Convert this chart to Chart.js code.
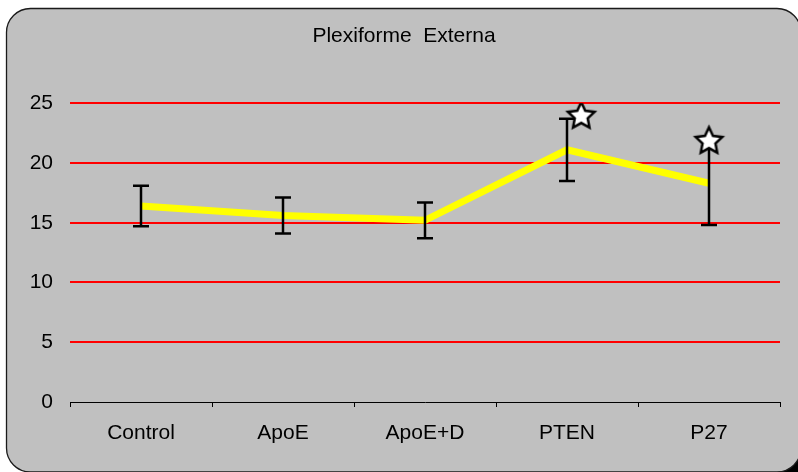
<!DOCTYPE html>
<html>
<head>
<meta charset="utf-8">
<script src="https://cdn.jsdelivr.net/npm/chart.js@4/dist/chart.umd.min.js"></script>
<style>
  html, body { margin: 0; padding: 0; background: #ffffff; }
  #wrap { width: 798px; height: 472px; }
</style>
</head>
<body>
<div id="wrap"><canvas id="chart" width="798" height="472"></canvas></div>
<script>
// Groups along the x axis
const categories = ['Control', 'ApoE', 'ApoE+D', 'PTEN', 'P27'];
// Group means and their error (±)
const means = [16.4, 15.6, 15.2, 21.1, 18.3];
const errors = [1.7, 1.5, 1.5, 2.6, 3.5];
// Significance stars: position along the group axis (group index) and height
const starX = [3.1, 4];
const starY = [24, 21.9];
// Y axis ticks
const yTicks = [0, 5, 10, 15, 20, 25];

const FONT = '"Liberation Sans", Arial, Helvetica, sans-serif';

// Five-pointed white star with black outline, used as point style
function makeStar(outer, inner, lw) {
  const size = Math.ceil(outer * 2 + lw * 2 + 2);
  const c = document.createElement('canvas');
  c.width = size; c.height = size;
  const g = c.getContext('2d');
  const cx = size / 2, cy = size / 2 + 1;
  g.beginPath();
  for (let i = 0; i < 10; i++) {
    const r = i % 2 === 0 ? outer : inner;
    const a = -Math.PI / 2 + i * Math.PI / 5;
    const px = cx + r * Math.cos(a), py = cy + r * Math.sin(a);
    if (i === 0) g.moveTo(px, py); else g.lineTo(px, py);
  }
  g.closePath();
  g.fillStyle = '#ffffff';
  g.fill();
  g.lineWidth = lw;
  g.lineJoin = 'miter';
  g.strokeStyle = '#000000';
  g.stroke();
  return c;
}
const starImg = makeStar(14, 6.8, 2.5);

// Rounded grey panel; the page corner behind its lower right edge is dark
const panel = {
  id: 'panel',
  beforeDraw(chart) {
    const ctx = chart.ctx;
    const x0 = 6.5, y0 = 8.5, x1 = 801, y1 = 472, r = 24;
    ctx.save();
    ctx.fillStyle = '#000000';
    ctx.fillRect(772, 440, 30, 34);
    ctx.beginPath();
    ctx.moveTo(x0 + r, y0);
    ctx.arcTo(x1, y0, x1, y1, r);
    ctx.arcTo(x1, y1, x0, y1, r);
    ctx.arcTo(x0, y1, x0, y0, r);
    ctx.arcTo(x0, y0, x1, y0, r);
    ctx.closePath();
    ctx.fillStyle = '#c0c0c0';
    ctx.fill();
    ctx.lineWidth = 1.3;
    ctx.strokeStyle = '#1a1a1a';
    ctx.stroke();
    ctx.restore();
  }
};

// Vertical error bars with caps, drawn over the mean line
const errorBars = {
  id: 'errorBars',
  afterDatasetDraw(chart, args) {
    if (args.index !== 0) return;
    const ctx = chart.ctx;
    const xs = chart.scales.x, ys = chart.scales.y;
    const cap = 8;
    ctx.save();
    ctx.strokeStyle = '#000000';
    ctx.lineWidth = 2.5;
    ctx.lineCap = 'butt';
    means.forEach((m, i) => {
      const x = xs.getPixelForValue(i);
      const yt = ys.getPixelForValue(m + errors[i]);
      const yb = ys.getPixelForValue(m - errors[i]);
      ctx.beginPath();
      ctx.moveTo(x, yt); ctx.lineTo(x, yb);
      ctx.moveTo(x - cap, yt); ctx.lineTo(x + cap, yt);
      ctx.moveTo(x - cap, yb); ctx.lineTo(x + cap, yb);
      ctx.stroke();
    });
    ctx.restore();
  }
};

new Chart(document.getElementById('chart'), {
  type: 'line',
  data: {
    labels: categories,
    datasets: [
      {
        data: means,
        borderColor: '#ffff00',
        borderWidth: 7,
        pointRadius: 0,
        tension: 0,
        fill: false,
        order: 2
      },
      {
        type: 'scatter',
        xAxisID: 'xs',
        data: starX.map((x, i) => ({ x: x, y: starY[i] })),
        pointStyle: starImg,
        pointRadius: 14,
        showLine: false,
        order: 1
      }
    ]
  },
  options: {
    responsive: false,
    animation: false,
    events: [],
    layout: { padding: { left: 28, right: 18, top: 10, bottom: 10 } },
    plugins: {
      legend: { display: false },
      tooltip: { enabled: false },
      title: {
        display: true,
        text: 'Plexiforme  Externa',
        color: '#000000',
        font: { family: FONT, size: 21, weight: 'normal' },
        padding: { top: 14, bottom: 54 }
      }
    },
    scales: {
      x: {
        type: 'category',
        offset: true,
        grid: {
          offset: true,
          drawOnChartArea: false,
          drawTicks: true,
          tickLength: 5,
          color: '#000000',
          lineWidth: 1
        },
        border: { display: true, color: '#000000', width: 1 },
        ticks: {
          color: '#000000',
          font: { family: FONT, size: 21 },
          padding: 14,
          maxRotation: 0
        },
        afterFit(s) { s.height = 60; }
      },
      xs: {
        type: 'linear',
        display: false,
        min: -0.5,
        max: categories.length - 0.5
      },
      y: {
        min: yTicks[0],
        max: yTicks[yTicks.length - 1],
        afterBuildTicks(s) { s.ticks = yTicks.map(v => ({ value: v })); },
        grid: {
          drawTicks: false,
          lineWidth: 2,
          color: c => (c.tick && c.tick.value === 0) ? 'rgba(0,0,0,0)' : '#ff0000'
        },
        border: { display: false },
        ticks: {
          color: '#000000',
          font: { family: FONT, size: 21 },
          padding: 17
        },
        afterFit(s) { s.width = 42; }
      }
    }
  },
  plugins: [panel, errorBars]
});
</script>
</body>
</html>
